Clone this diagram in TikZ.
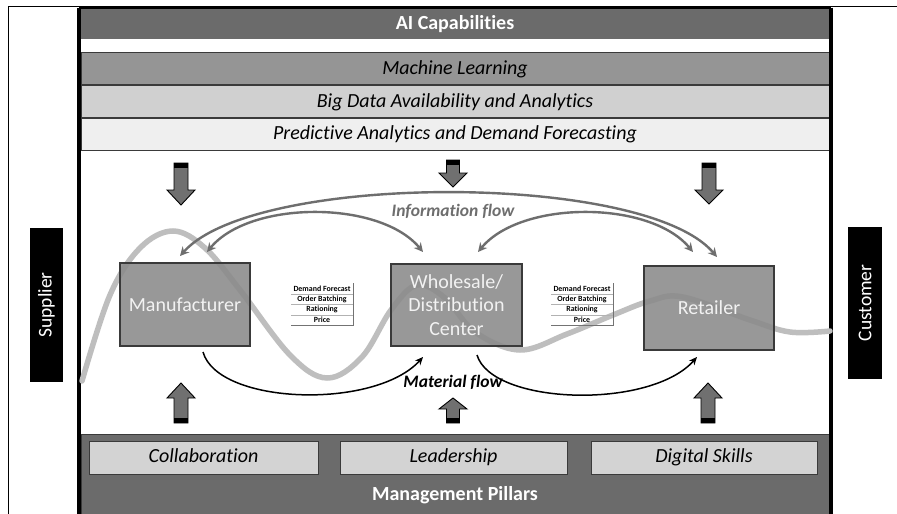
\documentclass[tikz,border=0pt]{standalone}
\usepackage{fontspec}
\setmainfont{Carlito}[Ligatures=NoCommon]
\usetikzlibrary{arrows.meta}
\definecolor{barDark}{HTML}{6B6B6B}
\definecolor{barML}{HTML}{959595}
\definecolor{barBD}{HTML}{D0D0D0}
\definecolor{barPA}{HTML}{EFEFEF}
\definecolor{edgeC}{HTML}{3A3A3A}
\definecolor{boxC}{HTML}{8A8A8A}
\definecolor{pillarC}{HTML}{D3D3D3}
\definecolor{infoC}{HTML}{6E6E6E}
\definecolor{waveC}{HTML}{BEBEBE}
\definecolor{arrC}{HTML}{707070}
\definecolor{boxText}{HTML}{F2F2F2}
\newcommand\dnblk[6]{%
  \filldraw[blockarr] (#1-#5,#2) -- (#1+#5,#2) -- (#1+#5,#3) -- (#1+#6,#3) -- (#1,#4) -- (#1-#6,#3) -- (#1-#5,#3) -- cycle;
  \fill[black] (#1-#5,#2) rectangle (#1+#5,#2+5);}
\newcommand\upblk[6]{%
  \filldraw[blockarr] (#1-#5,#2) -- (#1+#5,#2) -- (#1+#5,#3) -- (#1+#6,#3) -- (#1,#4) -- (#1-#6,#3) -- (#1-#5,#3) -- cycle;
  \fill[black] (#1-#5,#2-5) rectangle (#1+#5,#2);}
\begin{document}
\begin{tikzpicture}[x=1pt,y=-1pt,
  bar/.style={draw=edgeC,line width=0.8pt},
  bartext/.style={font=\fontsize{20}{23}\selectfont\itshape,text=black,text height=14pt,text depth=4pt},
  headtext/.style={font=\fontsize{20}{23}\selectfont\bfseries,text=white,text height=14pt,text depth=4pt},
  actor/.style={draw=edgeC,line width=1.2pt,fill=boxC,fill opacity=0.88,text opacity=1,text=boxText,font=\fontsize{20}{23.5}\selectfont,align=center,inner sep=0pt},
  pillar/.style={draw=edgeC,line width=0.8pt,fill=pillarC,font=\fontsize{20}{23}\selectfont\itshape,inner sep=0pt,text height=14pt,text depth=4pt},
  side/.style={fill=black,text=white,font=\fontsize{19.5}{22}\selectfont,inner sep=0pt},
  blockarr/.style={draw=black,line width=0.9pt,fill=arrC},
  infoarr/.style={draw=infoC,line width=2.4pt,{Stealth[length=9pt,width=9pt]}-{Stealth[length=9pt,width=9pt]}},
  matarr/.style={draw=black,line width=1.5pt,-{Stealth[length=8pt,width=7pt]}},
  tabtext/.style={font=\fontsize{7.9}{8}\selectfont\bfseries,inner sep=0pt},
  tabline/.style={draw=gray!60,line width=0.5pt}
]
\useasboundingbox (0,0) rectangle (897,514);
\fill[white] (0,0) rectangle (897,514);
% outer thin frame
\draw[black,line width=0.8pt] (8,514) -- (8,6) -- (897,6);
% top bars
\fill[barDark] (81,9) rectangle (829,39);
\node[headtext] (ai) at (455,24) {AI Capabilities};
\filldraw[bar,fill=barML] (81,52) rectangle (829,84);
\node[bartext] (ml) at (455,69) {Machine Learning};
\filldraw[bar,fill=barBD] (81,85) rectangle (829,117);
\node[bartext] (bd) at (455,102) {Big Data Availability and Analytics};
\filldraw[bar,fill=barPA] (81,118) rectangle (829,150);
\node[bartext] (pa) at (455,134) {Predictive Analytics and Demand Forecasting};
% bottom bar
\filldraw[bar,fill=barDark] (81,434) rectangle (829,516);
\node[headtext] (mp) at (455,495) {Management Pillars};
\node[pillar,minimum width=229pt,minimum height=33pt] (col) at (203.5,457.5) {Collaboration};
\node[pillar,minimum width=227pt,minimum height=33pt] (lead) at (453.5,457.5) {Leadership};
\node[pillar,minimum width=226pt,minimum height=33pt] (dig) at (704,457.5) {Digital Skills};
% main thick frame
\draw[black,line width=1.5pt] (79,8) -- (831,8);
\draw[black,line width=3.5pt] (79,7.5) -- (79,514);
\draw[black,line width=3.5pt] (831,7.5) -- (831,514);
% supplier / customer
\node[side,minimum width=33pt,minimum height=154pt] (sup) at (46.5,305) {};
\node[text=white,font=\fontsize{19.5}{22}\selectfont,rotate=90] (suptext) at (sup.center) {Supplier};
\node[side,minimum width=34pt,minimum height=152pt] (cus) at (865,303) {};
\node[text=white,font=\fontsize{19.5}{22}\selectfont,rotate=90] (custext) at (cus.center) {Customer};
% wave
\draw[waveC,line width=5.5pt,line cap=round] plot[smooth,tension=0.6] coordinates {
 (82,381) (110,295) (140,248) (173,231) (205,248) (240,290) (290,355) (327,378) (362,357) (391,310) (417,285) (445,298) (475,332) (520,350) (567,334) (613,315) (650,301) (683,297) (750,320) (790,332) (830,331)};
% actor boxes
\node[actor,minimum width=130pt,minimum height=83pt] (man) at (185,304.5) {Manufacturer};
\node[actor,minimum width=131pt,minimum height=82pt] (whs) at (456.5,305) {Wholesale/\\Distribution\\Center};
\node[actor,minimum width=130pt,minimum height=84pt] (ret) at (709,308) {Retailer};
% small tables
\foreach \tx/\tn in {291/ta,551/tb}{
  \node[tabtext] (\tn1) at (\tx+31,288.5) {Demand Forecast};
  \node[tabtext] (\tn2) at (\tx+31,299) {Order Batching};
  \node[tabtext] (\tn3) at (\tx+31,309.5) {Rationing};
  \node[tabtext] (\tn4) at (\tx+31,320) {Price};
  \draw[tabline] (\tx,293.8) -- (\tx+62,293.8);
  \draw[tabline] (\tx,304.3) -- (\tx+62,304.3);
  \draw[tabline] (\tx,314.8) -- (\tx+62,314.8);
  \draw[gray!90!black,line width=0.6pt] (\tx,325.3) -- (\tx+62.5,325.3) -- (\tx+62.5,283);
}
% block arrows
\dnblk{181}{163}{190}{205}{7}{14}
\dnblk{453}{160}{173}{187}{6.5}{14}
\dnblk{709}{163}{190}{204}{7}{14}
\upblk{181}{423}{398}{383}{7}{14}
\upblk{453}{423}{409}{398}{6.5}{14}
\upblk{708}{423}{398}{383}{7}{14}
% information flow
\coordinate (iM1) at (180,256);
\coordinate (iM2) at (207,252);
\coordinate (iW1) at (423,252);
\coordinate (iW2) at (478,252);
\coordinate (iR1) at (693,252);
\coordinate (iR2) at (717,257);
\draw[infoarr] (iM1) .. controls (255,172) and (645,172) .. (iR2);
\draw[infoarr] (iM2) .. controls (250,200) and (380,200) .. (iW1);
\draw[infoarr] (iW2) .. controls (521,200) and (650,200) .. (iR1);
\node[text=infoC,font=\fontsize{17.5}{20}\selectfont\bfseries\itshape] (info) at (453,211) {Information flow};
% material flow
\coordinate (mM) at (203,352);
\coordinate (mW1) at (423,357);
\coordinate (mW2) at (477,355);
\coordinate (mR) at (697,357);
\draw[matarr] (mM) .. controls (218,405) and (375,410) .. (mW1);
\draw[matarr] (mW2) .. controls (492,405) and (650,410) .. (mR);
\node[text=black,font=\fontsize{17.5}{20}\selectfont\bfseries\itshape] (mat) at (453,382) {Material flow};
\end{tikzpicture}
\end{document}
